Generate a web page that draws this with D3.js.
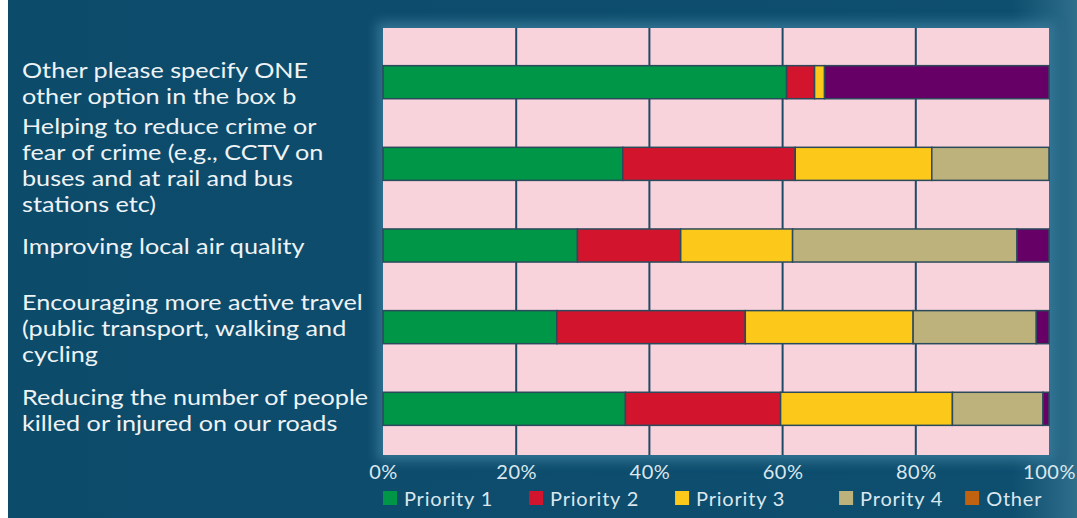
<!DOCTYPE html>
<html>
<head>
<meta charset="utf-8">
<script src="https://cdn.jsdelivr.net/npm/d3@7"></script>
<style>
  body { margin: 0; background: #ffffff; }
  svg { display: block; }
</style>
</head>
<body>
<svg id="chart" width="1077" height="518"></svg>
<script>
// category labels, one array of lines per bar (top to bottom)
const categories = [
  ["Other please specify ONE", "other option in the box b"],
  ["Helping to reduce crime or", "fear of crime (e.g., CCTV on", "buses and at rail and bus", "stations etc)"],
  ["Improving local air quality"],
  ["Encouraging more active travel", "(public transport, walking and", "cycling"],
  ["Reducing the number of people", "killed or injured on our roads"]
];

// series names as printed in the legend
const seriesNames = ["Priority 1", "Priority 2", "Priority 3", "Prority 4", "Other"];

// percentages
const priority1 = [60.6, 36.0, 29.2, 26.1, 36.4];
const priority2 = [4.2, 25.9, 15.5, 28.3, 23.3];
const priority3 = [1.5, 20.5, 16.8, 25.2, 25.8];
const priority4 = [0, 17.6, 33.7, 18.5, 13.6];
const other = [33.7, 0, 4.8, 1.9, 0.9];

const tickValues = [0, 20, 40, 60, 80, 100];

// colours
const barColors = ["#009647", "#d2152d", "#fcc91a", "#bdb27b", "#660066"];
const legendColors = ["#009647", "#d2152d", "#fcc91a", "#bdb27b", "#c0620f"];

const svg = d3.select("#chart");
const W = 1077, H = 518;
const plotL = 383, plotR = 1049, plotT = 28, plotB = 455;

// background
const defs = svg.append("defs");
const bg = defs.append("linearGradient").attr("id", "bg").attr("x1", 0).attr("x2", 1).attr("y1", 0).attr("y2", 0);
bg.append("stop").attr("offset", "0%").attr("stop-color", "#0d4b6b");
bg.append("stop").attr("offset", "94%").attr("stop-color", "#0e4e6e");
bg.append("stop").attr("offset", "100%").attr("stop-color", "#2f6f8c");
defs.append("filter").attr("id", "glow").attr("x", "-10%").attr("y", "-10%").attr("width", "120%").attr("height", "120%")
  .append("feGaussianBlur").attr("stdDeviation", 6);

svg.append("rect").attr("x", 8).attr("y", 0).attr("width", W - 8).attr("height", H).attr("fill", "url(#bg)");

// soft glow round the plot
svg.append("rect")
  .attr("x", plotL - 6).attr("y", plotT - 6)
  .attr("width", plotR - plotL + 12).attr("height", plotB - plotT + 12)
  .attr("fill", "#3a7d9c").attr("opacity", 0.8)
  .attr("filter", "url(#glow)");

// scales
const x = d3.scaleLinear().domain([0, 100]).range([plotL, plotR]);
const y = d3.scaleBand().domain(d3.range(categories.length)).range([33, 458])
  .paddingInner(0.595).paddingOuter(0.4);

// plot area
svg.append("rect")
  .attr("x", plotL).attr("y", plotT)
  .attr("width", plotR - plotL).attr("height", plotB - plotT)
  .attr("fill", "#f8d3db");

// vertical grid lines
svg.append("g").selectAll("line")
  .data(tickValues.slice(1, -1))
  .enter()
  .append("line")
  .attr("x1", d => x(d)).attr("x2", d => x(d))
  .attr("y1", plotT).attr("y2", plotB)
  .attr("stroke", "#1e4a66")
  .attr("stroke-width", 2);

// stack the series
const rows = categories.map((c, i) => ({
  i: i,
  s0: priority1[i], s1: priority2[i], s2: priority3[i], s3: priority4[i], s4: other[i]
}));
const stack = d3.stack().keys(["s0", "s1", "s2", "s3", "s4"]);
const layers = stack(rows);

const layer = svg.append("g").selectAll("g")
  .data(layers)
  .enter()
  .append("g")
  .attr("fill", (d, k) => barColors[k]);

layer.selectAll("rect")
  .data(d => d.filter(p => p[1] - p[0] > 0))
  .enter()
  .append("rect")
  .attr("x", d => x(d[0]))
  .attr("y", d => y(d.data.i))
  .attr("width", d => x(d[1]) - x(d[0]))
  .attr("height", y.bandwidth())
  .attr("stroke", "#2b4a5c")
  .attr("stroke-width", 1.5);

// category labels (a little stretched to get the wide look of the original face)
const lineH = 26;
const labels = svg.append("g")
  .attr("transform", "translate(22,0) scale(1.2,1)")
  .style("font-family", "Lato, 'Open Sans', sans-serif")
  .style("font-size", "21px")
  .attr("fill", "#eef3f6");

labels.selectAll("text")
  .data(categories)
  .enter()
  .append("text")
  .attr("x", 0)
  .attr("y", (d, i) => y(i) + y.bandwidth() / 2 + 2 - (d.length - 1) * lineH / 2 + 7)
  .each(function (d) {
    const t = d3.select(this);
    d.forEach((line, k) => {
      t.append("tspan").attr("x", 0).attr("dy", k === 0 ? 0 : lineH).text(line);
    });
  });

// x axis
const xAxis = d3.axisBottom(x)
  .tickValues(tickValues)
  .tickSize(0)
  .tickPadding(10)
  .tickFormat(d => d + "%");

const ax = svg.append("g")
  .attr("transform", "translate(0," + plotB + ")")
  .call(xAxis);
ax.select(".domain").remove();
ax.selectAll("text")
  .style("font-family", "Lato, 'Open Sans', sans-serif")
  .style("font-size", "20px")
  .style("letter-spacing", "0.5px")
  .attr("fill", "#dbe7ee");

// legend
const legend = svg.append("g")
  .style("font-family", "Lato, 'Open Sans', sans-serif")
  .style("font-size", "20px")
  .style("letter-spacing", "0.8px");

const legendGaps = [36, 36, 54, 22];
let lx = 383;
seriesNames.forEach((name, k) => {
  legend.append("rect")
    .attr("x", lx).attr("y", 491)
    .attr("width", 14).attr("height", 14)
    .attr("fill", legendColors[k]);
  const t = legend.append("text")
    .attr("x", lx + 21).attr("y", 506)
    .attr("fill", "#dbe7ee")
    .text(name);
  lx = lx + 21 + t.node().getComputedTextLength() + (legendGaps[k] || 0);
});
</script>
</body>
</html>
